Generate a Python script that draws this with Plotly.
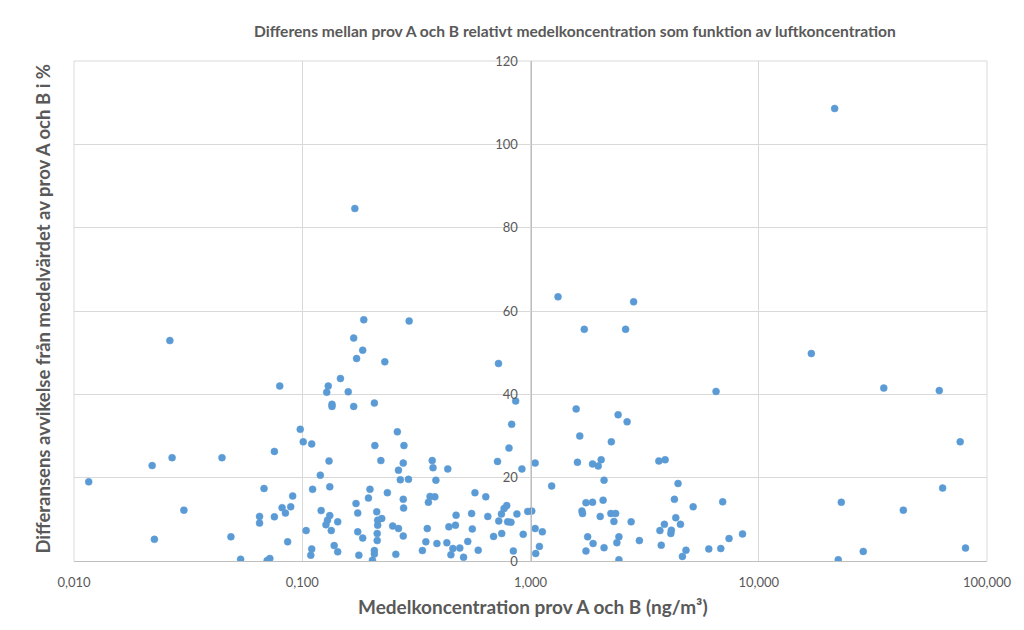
import plotly.graph_objects as go

# Mean concentration of sample A and B (ng/m3)
conc = [
    0.0116, 0.022, 0.0269, 0.0445, 0.0303, 0.0225, 0.0487, 0.0537, 0.0263,
    0.170, 0.186, 0.294, 0.168, 0.184, 0.173, 0.230, 0.724,
    0.0797, 0.130, 0.128, 0.147, 0.159, 0.135, 0.135, 0.168, 0.207, 0.098,
    0.101, 0.110, 0.0755, 0.131, 0.120, 0.261, 0.208, 0.279, 0.221, 0.277,
    0.264, 0.269, 0.292, 0.068, 0.111, 0.132, 0.0908, 0.198, 0.195, 0.236,
    0.277, 0.278, 0.172, 0.175, 0.0816, 0.0890, 0.0844, 0.065, 0.065, 0.0755,
    0.121, 0.132, 0.129, 0.127, 0.143, 0.134, 0.104, 0.212, 0.223, 0.214,
    0.214, 0.213, 0.213, 0.175, 0.184, 0.249, 0.264, 0.277, 0.0863, 0.138,
    0.143, 0.110, 0.109, 0.177, 0.207, 0.207, 0.203, 0.257, 0.0702, 0.0721,
    0.861, 0.827, 0.805, 0.717, 0.917, 1.048, 1.238, 1.585, 1.644, 1.606,
    1.87, 0.371, 0.374, 0.434, 0.385, 0.363, 0.381, 0.357, 0.571, 0.637,
    0.472, 0.552, 0.650, 0.787, 0.766, 0.746, 0.726, 0.794, 0.821, 0.872,
    0.973, 1.013, 0.353, 0.439, 0.469, 0.556, 0.689, 0.748, 0.929, 1.048,
    1.127, 1.094, 1.054, 0.348, 0.389, 0.430, 0.336, 0.457, 0.448, 0.490,
    0.509, 0.531, 0.590, 0.841, 1.78, 1.88, 1.75, 1.68, 1.69, 1.75, 1.87,
    6.50, 2.42, 2.65, 2.26, 2.04, 1.98, 3.65, 3.89, 2.10, 4.43, 4.27, 2.08,
    5.16, 6.95, 2.02, 2.25, 2.36, 2.32, 2.76, 4.33, 4.54, 3.86, 3.69, 4.14,
    4.12, 2.44, 2.39, 3.0, 2.10, 3.74, 4.80, 4.63, 2.44, 6.04, 6.82, 7.41, 8.49,
    21.5, 1.32, 2.83, 1.72, 2.61, 17.0,
    35.3, 61.8, 76.3, 63.9, 23.0, 43.0, 28.7, 22.3, 80.5,
]

# Deviation of the difference from the mean of sample A and B (%)
deviation = [
    19.0, 22.9, 24.8, 24.8, 12.2, 5.2, 5.8, 0.4, 52.9,
    84.6, 57.9, 57.6, 53.5, 50.6, 48.6, 47.8, 47.4,
    42.0, 42.0, 40.5, 43.8, 40.6, 37.6, 37.1, 37.1, 37.9, 31.6,
    28.6, 28.1, 26.3, 24.0, 20.6, 31.0, 27.7, 27.7, 24.1, 23.5,
    21.8, 19.5, 19.6, 17.4, 17.2, 17.8, 15.6, 17.2, 15.1, 16.4,
    14.8, 12.7, 13.8, 11.5, 12.8, 13.0, 11.5, 10.7, 9.1, 10.6,
    12.1, 10.9, 9.8, 8.7, 9.4, 7.3, 7.3, 11.8, 10.2, 9.8,
    8.6, 6.6, 4.9, 7.0, 5.5, 8.4, 7.8, 6.0, 4.6, 3.7,
    2.2, 2.9, 1.4, 1.4, 2.5, 1.7, 0.2, 1.6, 0.1, 0.6,
    38.4, 32.8, 27.1, 23.9, 22.1, 23.5, 18.0, 36.5, 30.0, 23.7,
    23.3, 24.1, 22.4, 22.1, 19.4, 15.5, 15.4, 14.1, 16.4, 15.4,
    11.0, 11.4, 10.7, 13.3, 12.6, 11.3, 9.6, 9.4, 9.3, 11.3,
    11.9, 12.0, 7.8, 8.2, 8.6, 7.7, 5.9, 6.6, 6.4, 7.8,
    7.0, 3.5, 1.8, 4.6, 4.2, 4.4, 2.5, 3.0, 1.5, 3.1,
    0.9, 4.7, 2.6, 2.4, 5.8, 4.2, 2.4, 12.0, 11.4, 14.0, 14.1,
    40.7, 35.1, 33.4, 28.6, 24.3, 22.8, 24.0, 24.3, 19.4, 18.6, 14.8, 14.6,
    13.0, 14.2, 10.7, 11.4, 11.4, 9.5, 9.4, 10.4, 8.8, 8.8, 7.3, 7.4,
    6.6, 5.8, 4.4, 4.9, 3.2, 3.8, 2.6, 1.1, 0.3, 2.9, 3.0, 5.4, 6.5,
    108.6, 63.4, 62.2, 55.6, 55.6, 49.8,
    41.5, 40.9, 28.6, 17.5, 14.1, 12.2, 2.3, 0.3, 3.1,
]

x_tickvals = [0.01, 0.1, 1, 10, 100]
x_ticktext = ["0,010", "0,100", "1,000", "10,000", "100,000"]
y_tickvals = [0, 20, 40, 60, 80, 100, 120]

title = "Differens mellan prov A och B relativt medelkoncentration som funktion av luftkoncentration"
x_title = "Medelkoncentration prov A och B (ng/m³)"
y_title = "Differansens avvikelse från medelvärdet av prov A och B i %"

TEXT = "#595959"
GRID = "#D9D9D9"
AXIS = "#BFBFBF"
FONT = "Lato, Open Sans, sans-serif"

fig = go.Figure()
fig.add_trace(go.Scatter(
    x=conc, y=deviation, mode="markers",
    marker=dict(color="#5B9BD5", size=7, line=dict(color="#5B9BD5", width=0.5)),
    showlegend=False,
))

fig.update_layout(
    width=1016, height=622,
    margin=dict(l=66, r=30, t=53, b=69),
    paper_bgcolor="white", plot_bgcolor="white",
    font=dict(family=FONT, color=TEXT),
    xaxis=dict(
        type="log", range=[-2, 2],
        tickvals=x_tickvals, ticktext=x_ticktext,
        showgrid=True, gridcolor=GRID, gridwidth=1,
        showline=True, linecolor=AXIS, linewidth=1,
        zeroline=False, ticks="", ticklen=0, ticklabelstandoff=9,
        tickfont=dict(size=13, color=TEXT, family=FONT),
    ),
    yaxis=dict(
        range=[0, 120], tickvals=y_tickvals,
        anchor="free", position=0.5,
        showgrid=True, gridcolor=GRID, gridwidth=1,
        showline=True, linecolor=AXIS, linewidth=1,
        zeroline=False, ticks="", ticklen=0, ticklabelstandoff=10,
        tickfont=dict(size=13, color=TEXT, family=FONT),
    ),
    annotations=[
        dict(text=title, xref="paper", yref="paper", x=0.549, y=1.06,
             xanchor="center", yanchor="middle", showarrow=False,
             font=dict(size=15.6, color=TEXT, family=FONT, weight="bold")),
        dict(text=x_title, xref="paper", yref="paper", x=0.503, y=-0.09,
             xanchor="center", yanchor="middle", showarrow=False,
             font=dict(size=19, color=TEXT, family=FONT, weight="bold")),
        dict(text=y_title, xref="paper", yref="paper", x=-0.035, y=0.505,
             xanchor="center", yanchor="middle", showarrow=False, textangle=-90,
             font=dict(size=18.5, color=TEXT, family=FONT, weight="bold")),
    ],
    shapes=[
        dict(type="rect", xref="paper", yref="paper",
             x0=-0.074, x1=1.2, y0=-0.3, y1=1.108,
             line=dict(color=GRID, width=1), layer="below"),
        dict(type="line", xref="paper", yref="paper",
             x0=0, x1=0, y0=0, y1=1, line=dict(color=GRID, width=1), layer="below"),
        dict(type="line", xref="paper", yref="paper",
             x0=1, x1=1, y0=0, y1=1, line=dict(color=GRID, width=1), layer="below"),
        dict(type="line", xref="paper", yref="paper",
             x0=0, x1=1, y0=1, y1=1, line=dict(color=GRID, width=1), layer="below"),
    ],
)

fig.write_html("out.html")
